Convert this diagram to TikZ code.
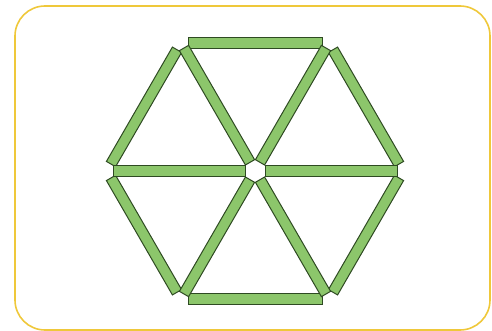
\documentclass[tikz,border=0pt]{standalone}
\usetikzlibrary{calc}
\definecolor{stickfill}{HTML}{8CC66B}
\definecolor{stickline}{HTML}{2E4A22}
\definecolor{framecol}{HTML}{EFC83A}
\tikzset{stickbox/.style={fill=stickfill,draw=stickline,line width=1pt,line join=miter}}
\newcommand\drawstick[4]{%
  \coordinate (s1) at ($(#1)!#3!(#2)$);
  \coordinate (s2) at ($(#2)!#4!(#1)$);
  \filldraw[stickbox] ($(s1)!5.3pt!90:(s2)$) -- ($(s1)!5.3pt!-90:(s2)$) -- ($(s2)!5.3pt!90:(s1)$) -- ($(s2)!5.3pt!-90:(s1)$) -- cycle;
}
\begin{document}
\begin{tikzpicture}[x=1pt,y=-1pt]
\useasboundingbox (0,0) rectangle (492,331);
\draw[framecol,line width=1.6pt,rounded corners=30pt] (15,6) rectangle (490,330);
\coordinate (C) at (255,171);
\coordinate (V0) at (403,171);
\coordinate (V1) at (329,42.8);
\coordinate (V2) at (181,42.8);
\coordinate (V3) at (107,171);
\coordinate (V4) at (181,299.2);
\coordinate (V5) at (329,299.2);
% sides
\drawstick{V0}{V1}{8pt}{8pt}
\drawstick{V1}{V2}{7pt}{7pt}
\drawstick{V2}{V3}{8pt}{8pt}
\drawstick{V3}{V4}{8pt}{8pt}
\drawstick{V4}{V5}{7pt}{7pt}
\drawstick{V5}{V0}{8pt}{8pt}
% spokes
\drawstick{C}{V0}{10pt}{6pt}
\drawstick{C}{V1}{10pt}{6pt}
\drawstick{C}{V2}{10pt}{6pt}
\drawstick{C}{V3}{10pt}{6pt}
\drawstick{C}{V4}{10pt}{6pt}
\drawstick{C}{V5}{10pt}{6pt}
\end{tikzpicture}
\end{document}
